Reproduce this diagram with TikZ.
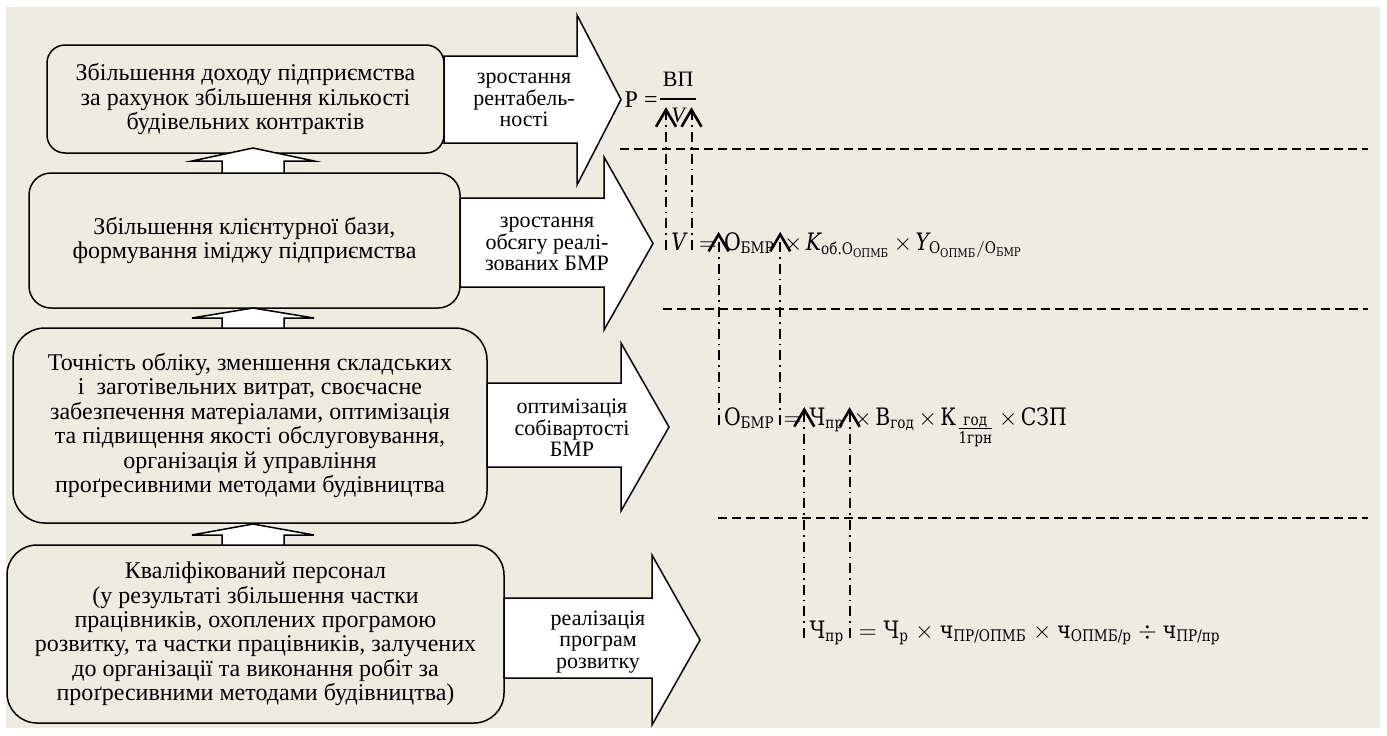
\documentclass[tikz,border=0pt]{standalone}
\usepackage{amsmath}
\usepackage{fontspec}
\setmainfont{Liberation Serif}
\newfontfamily\frmfont[FakeStretch=0.85]{DejaVu Serif}
\usepackage{tikz}
\usetikzlibrary{arrows.meta,positioning}
\definecolor{bgtan}{HTML}{EEECE1}
\newcommand\frmsize{\frmfont\fontsize{12}{14}\selectfont\medmuskip=2.5mu\relax\thickmuskip=3.5mu\relax}

\tikzset{
  stage/.style={draw, line width=0.75pt, fill=bgtan, align=center, inner sep=0pt,
    font=\fontsize{12}{12.2}\selectfont},
  push/.style={draw, line width=0.75pt, fill=white, line join=miter},
  pushtxt/.style={align=center, inner sep=0pt, font=\fontsize{11}{10.8}\selectfont},
  sym/.style={inner xsep=2.5pt, inner ysep=0pt, font=\frmsize},
  rest/.style={inner sep=0pt, font=\frmsize},
  sepline/.style={line width=0.8pt, dash pattern=on 4.5pt off 2.5pt},
  trace/.style={line width=1pt, dash pattern=on 5pt off 2.5pt on 0.8pt off 2.5pt,
    -{Straight Barb[length=8.5pt,width=10pt,line width=1.3pt]}},
}

\begin{document}
\begin{tikzpicture}[x=0.5pt, y=-0.5pt]
	\useasboundingbox (0,0) rectangle (1387,735);
	\fill[bgtan] (6,7) rectangle (1380,728);
	
	% stages
	\node[stage, minimum width=198.5pt, minimum height=54pt, rounded corners=9pt] (income) at (245.5,99)
		{Збільшення доходу підприємства\\за рахунок збільшення кількості\\будівельних контрактів};
	\node[stage, minimum width=215.5pt, minimum height=67.5pt, rounded corners=11pt] (clients) at (244.5,240.5)
		{Збільшення клієнтурної бази,\\формування іміджу підприємства};
	\node[stage, minimum width=237pt, minimum height=97.5pt, rounded corners=16pt] (supply) at (250,425.5)
		{Точність обліку, зменшення складських\\і\ \ заготівельних витрат, своєчасне\\забезпечення матеріалами, оптимізація\\та підвищення якості обслуговування,\\організація й управління\\проґресивними методами будівництва};
	\node[stage, minimum width=248.5pt, minimum height=89pt, rounded corners=15pt] (staff) at (255.5,634)
		{Кваліфікований персонал\\(у результаті збільшення частки\\працівників, охоплених програмою\\розвитку, та частки працівників, залучених\\до організації та виконання робіт за\\проґресивними методами будівництва)};
	
	% up arrows
	\foreach \ya/\yb/\yc in {148/161/173, 308/318/328, 524/535/545}
		\draw[push] (253,\ya) -- (314,\yb) -- (284,\yb) -- (284,\yc) -- (222,\yc) -- (222,\yb) -- (192,\yb) -- cycle;
	
	% right arrows
	\draw[push] (444,56) -- (577,56) -- (577,15) -- (621,99.5) -- (577,185) -- (577,143) -- (444,143) -- cycle;
	\draw[push] (460,198) -- (604,198) -- (604,157) -- (653,243.5) -- (604,330) -- (604,287) -- (460,287) -- cycle;
	\draw[push] (487,383) -- (621,383) -- (621,343) -- (669,427) -- (621,511) -- (621,467) -- (487,467) -- cycle;
	\draw[push] (504,598) -- (652,598) -- (652,555) -- (700,640) -- (652,725) -- (652,678) -- (504,678) -- cycle;
	
	\node[pushtxt] (gain) at (524,100) {зростання\\рентабель-\\ності};
	\node[pushtxt] (volume) at (547,244) {зростання\\обсягу реалі-\\зованих БМР};
	\node[pushtxt] (cost) at (572,428) {оптимізація\\собівартості\\БМР};
	\node[pushtxt] (growth) at (598,642) {реалізація\\програм\\розвитку};
	
	% separators
	\draw[sepline] (620,149) -- (1368,149);
	\draw[sepline] (663,309) -- (1368,309);
	\draw[sepline] (718,518) -- (1368,518);
	
	% formulas
	\coordinate (c1) at (0,122);
	\coordinate (c3) at (0,425);
	\coordinate (c4) at (0,638);
	
	\node[sym, anchor=base west] (v2) at (666,250) {\itshape V};
	\node[rest, base right=3.5pt of v2] (eq2) {$=$};
	\node[sym, base right=0.5pt of eq2] (o2) {$\text{О}_{\text{БМР}}$};
	\node[rest, base right=0pt of o2] (k2)
		{${}\times\text{\itshape K}_{\text{об.О}_{\text{ОПМБ}}}\times\text{\itshape Y}_{\text{О}_{\text{ОПМБ}}/\text{О}_{\text{БМР}}}$};
	
	\node[sym, anchor=base west, font=\fontsize{11}{13}\selectfont\itshape] (v1) at (v2.base west |- c1) {V};
	\node[inner sep=0pt, font=\fontsize{11}{13}\selectfont, above=10pt of v1] (bp) {ВП};
	\node[inner sep=0pt, anchor=base east, font=\fontsize{12}{14}\selectfont] (prof) at (658,107) {Р =};
	\draw[line width=0.8pt] ([xshift=-1pt,yshift=-6pt]bp.south west) -- ([xshift=1pt,yshift=-6pt]bp.south east);
	
	\node[sym, anchor=base west] (o3) at (o2.base west |- c3) {$\text{О}_{\text{БМР}}$};
	\node[rest, base right=1.5pt of o3] (eq3) {$=$};
	\node[sym, base right=1pt of eq3] (ch3) {$\text{Ч}_{\text{пр}}$};
	\node[rest, base right=0pt of ch3] (k3)
		{${}\times\text{В}_{\text{год}}\times\text{К}_{\textstyle\frac{\text{год}}{\text{1грн}}}\times\text{СЗП}$};
	
	\node[sym, anchor=base west] (ch4) at (ch3.base west |- c4) {$\text{Ч}_{\text{пр}}$};
	\node[rest, base right=1pt of ch4] (k4)
		{\medmuskip=4.5mu\thickmuskip=5mu
		${}=\text{Ч}_{\text{р}}\times\text{ч}_{\text{ПР/ОПМБ}}\times\text{ч}_{\text{ОПМБ/р}}\div\text{ч}_{\text{ПР/пр}}$};
	
	% links between formulas
	\draw[trace] (v2.base west) -- (v2.base west |- v1.north);
	\draw[trace] (v2.base east) -- (v2.base east |- v1.north);
	\draw[trace] (o3.base west) -- (o3.base west |- o2.north);
	\draw[trace] (o3.base east) -- (o3.base east |- o2.north);
	\draw[trace] (ch4.base west) -- (ch4.base west |- ch3.north);
	\draw[trace] (ch4.base east) -- (ch4.base east |- ch3.north);
\end{tikzpicture}
\end{document}
